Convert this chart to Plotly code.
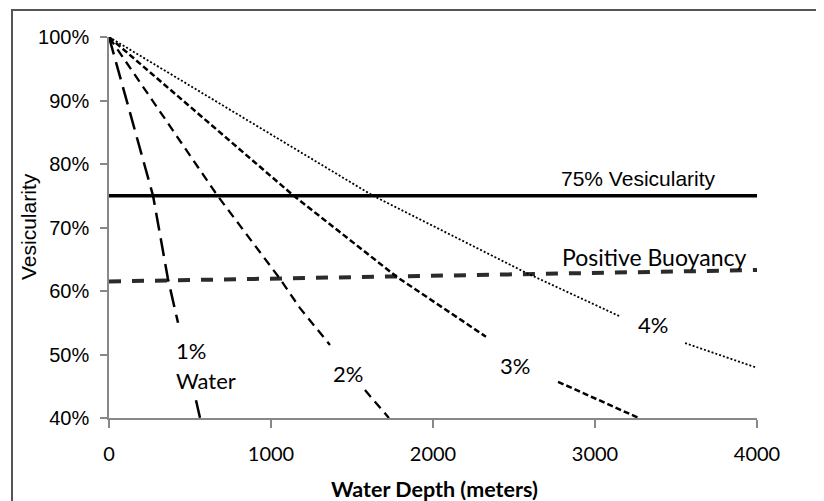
import plotly.graph_objects as go

# ---- data (depth in meters, vesicularity as fraction); None = gap for label ----
depth_1 = [0, 272, 364, 426, None, 537, 562]
vesic_1 = [1.00, 0.75, 0.619, 0.550, None, 0.428, 0.400]

depth_2 = [0, 670, 1056, 1179, 1364, None, 1580, 1728]
vesic_2 = [1.00, 0.75, 0.619, 0.573, 0.515, None, 0.444, 0.400]

depth_3 = [0, 1140, 1778, 2327, None, 2772, 3270]
vesic_3 = [1.00, 0.75, 0.622, 0.528, None, 0.457, 0.400]

depth_4 = [0, 1056, 1630, 2580, 3154, None, 3556, 4000]
vesic_4 = [1.00, 0.838, 0.75, 0.628, 0.560, None, 0.518, 0.479]

ves75_x = [0, 4000]
ves75_y = [0.75, 0.75]

buoy_x = [0, 4000]
buoy_y = [0.615, 0.633]

x_ticks = [0, 1000, 2000, 3000, 4000]
y_ticks = [0.4, 0.5, 0.6, 0.7, 0.8, 0.9, 1.0]
y_ticktext = ["40%", "50%", "60%", "70%", "80%", "90%", "100%"]

# ---- layout geometry (page body has an 8px margin) ----
OFF = 8
W, H = 824 - OFF, 501 - OFF
L, R, T, B = 109 - OFF, 757 - OFF, 37 - OFF, 418 - OFF

def px(xp):
    return (xp - OFF - L) / (R - L)

def py(yp):
    return (B - (yp - OFF)) / (B - T)

fig = go.Figure()

fig.add_trace(go.Scatter(x=ves75_x, y=ves75_y, mode="lines",
                         line=dict(color="black", width=3.5), hoverinfo="skip"))
# buoyancy line
fig.add_trace(go.Scatter(x=buoy_x, y=buoy_y, mode="lines",
                         line=dict(color="#2b2b2b", width=4, dash="12px,11px"), hoverinfo="skip"))

fig.add_trace(go.Scatter(x=depth_1, y=vesic_1, mode="lines", connectgaps=False,
                         line=dict(color="black", width=2.5, dash="18px,8px")))
fig.add_trace(go.Scatter(x=depth_2, y=vesic_2, mode="lines", connectgaps=False,
                         line=dict(color="black", width=2.3, dash="9px,6px")))
fig.add_trace(go.Scatter(x=depth_3, y=vesic_3, mode="lines", connectgaps=False,
                         line=dict(color="black", width=2.5, dash="6px,3px")))
fig.add_trace(go.Scatter(x=depth_4, y=vesic_4, mode="lines", connectgaps=False,
                         line=dict(color="black", width=1.8, dash="2px,2px")))

labels = [
    ("75% Vesicularity", 638, 178, "Liberation Sans, Arial", 21, "center"),
    ("Positive Buoyancy", 654, 257, "Lato, Calibri", 23, "center"),
    ("4%", 653, 324, "Lato, Calibri", 22, "center"),
    ("3%", 515, 365, "Lato, Calibri", 22, "center"),
    ("2%", 348, 373, "Lato, Calibri", 22, "center"),
    ("1%", 174, 350, "Lato, Calibri", 22, "left"),
    ("Water", 174, 380, "Lato, Calibri", 22, "left"),
]
for text, x, y, fam, size, anchor in labels:
    fig.add_annotation(text=text, xref="paper", yref="paper", x=px(x), y=py(y),
                       xanchor=anchor, yanchor="middle", showarrow=False,
                       font=dict(family=fam, size=size, color="black"))

# axis titles
fig.add_annotation(text="<b>Water Depth (meters)</b>", xref="paper", yref="paper",
                   x=px(434), y=py(489), xanchor="center", yanchor="middle", showarrow=False,
                   font=dict(family="Lato, Calibri", size=21.5, color="black"))
fig.add_annotation(text="Vesicularity", xref="paper", yref="paper",
                   x=px(28), y=py(227), xanchor="center", yanchor="middle", showarrow=False,
                   textangle=-90, font=dict(family="Liberation Sans, Arial", size=21, color="black"))

# outer border
fig.add_shape(type="rect", xref="paper", yref="paper",
              x0=px(12), x1=px(822), y0=py(520), y1=py(10),
              line=dict(color="#555555", width=2), fillcolor="rgba(0,0,0,0)")

fig.update_layout(
    width=W, height=H,
    margin=dict(l=L, r=W - R, t=T, b=H - B),
    paper_bgcolor="white", plot_bgcolor="white",
    showlegend=False,
    xaxis=dict(range=[0, 4000], tickvals=x_ticks, showgrid=False, zeroline=False,
               showline=True, linecolor="#888888", linewidth=1.5,
               ticks="outside", ticklen=8, tickcolor="#888888", tickwidth=1.5,
               ticklabelstandoff=9,
               tickfont=dict(family="Lato, Calibri", size=20, color="black")),
    yaxis=dict(range=[0.4, 1.0], tickvals=y_ticks, ticktext=y_ticktext, showgrid=False,
               zeroline=False, showline=True, linecolor="#888888", linewidth=1.5,
               ticks="outside", ticklen=7, tickcolor="#888888", tickwidth=1.5,
               ticklabelstandoff=7,
               tickfont=dict(family="Liberation Sans, Arial", size=20, color="black")),
)

fig.write_html("out.html")
